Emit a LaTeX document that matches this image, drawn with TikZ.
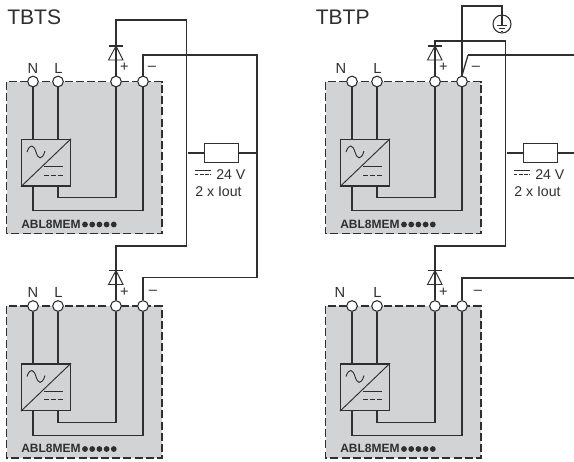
\documentclass[tikz,border=0pt]{standalone}
\usepackage{fontspec}
\setmainfont{Liberation Sans}
\definecolor{ink}{HTML}{2F2F2F}
\definecolor{panel}{HTML}{D1D3D4}
\tikzset{
  x=0.75pt,y=-0.75pt,
  wire/.style={draw=ink,line width=0.95pt,line join=miter},
  thin wire/.style={draw=ink,line width=0.7pt},
  terminal/.style={circle,draw=ink,fill=white,line width=0.8pt,minimum size=8pt,inner sep=0pt},
  panelbox/.style={draw=ink,fill=panel,line width=0.8pt,dash pattern=on 6pt off 2.4pt},
  conv/.style={draw=ink,line width=0.95pt,minimum width=36.6pt,minimum height=35pt,inner sep=0pt},
  load/.style={draw=ink,line width=0.95pt,minimum width=25.5pt,minimum height=14pt,inner sep=0pt},
  pin/.style={font=\fontsize{11}{12}\selectfont,text=ink,inner sep=0pt},
  polarity/.style={font=\fontsize{11}{12}\selectfont,text=ink,inner sep=0pt},
  title/.style={font=\fontsize{15.8}{18}\selectfont,text=ink,inner sep=0pt,anchor=west},
  model/.style={font=\fontsize{9}{11}\selectfont\bfseries,text=ink,inner sep=0pt,anchor=west},
  rating/.style={font=\fontsize{10.6}{12}\selectfont,text=ink,inner sep=0pt,anchor=west},
}
% #1 x offset, #2 y offset, #3 name prefix, #4 N label x, #5 minus label x (both relative to the unit)
\newcommand{\supplyunit}[5]{%
\begin{scope}[shift={(#1,#2)}]
  \path[panelbox] (6.5,81.5) rectangle (162,233.5);
  \node[conv] (#3conv) at (46,162.7) {};
  \node[terminal] (#3N) at (33,81.5) {};
  \node[terminal] (#3L) at (58,81.5) {};
  \node[terminal] (#3P) at (116,81.5) {};
  \node[terminal] (#3M) at (143,81.5) {};
  \node[pin] (#3Nt) at (#4,68) {N};
  \node[pin] (#3Lt) at (58.5,68) {L};
  \node[polarity] (#3Pt) at (124.5,67.5) {+};
  \node[polarity] (#3Mt) at (#5,68) {–};
  \draw[wire] (#3N.south) -- (#3N.south |- #3conv.north);
  \draw[wire] (#3L.south) -- (#3L.south |- #3conv.north);
  \draw[wire] (#3N.south |- #3conv.south) -- ++(0,24) -| (#3M.south);
  \draw[wire] (#3L.south |- #3conv.south) -- ++(0,11) -| (#3P.south);
  \draw[thin wire] (#3conv.south west) -- (#3conv.north east);
  \draw[thin wire] (27,152) .. controls (30,143) and (34,145) .. (36,152) .. controls (38,159) and (42,161) .. (45,151);
  \draw[thin wire] (44,166.7) -- (63,166.7);
  \draw[thin wire,dash pattern=on 3.6pt off 1.6pt] (44,175) -- (63,175);
  \node[model] (#3name) at (21,224) {ABL8MEM};
  \foreach \i in {0,1,2,3,4} \fill[ink] (85+7.2*\i,224.5) circle (2.9);
  % diode
  \coordinate (#3D) at (116,46);
  \draw[thin wire] (108.5,60) -- (123,60) -- (#3D) -- cycle;
  \draw[wire] (108.5,46) -- (123,46);
\end{scope}}
% #1 x offset, #2 name prefix
\newcommand{\ratinglabel}[2]{%
  \begin{scope}[shift={(#1,0)}]
  \draw[draw=ink,line width=0.5pt] (195,170.5) -- (211,170.5);
  \draw[draw=ink,line width=0.5pt,dash pattern=on 2.6pt off 1.2pt] (195,174.5) -- (211,174.5);
  \node[rating] (#2v) at (216,175) {24 V};
  \node[rating] (#2i) at (195,192) {2 x Iout};
  \end{scope}}
\begin{document}
\begin{tikzpicture}
\useasboundingbox (0,0) rectangle (574,461);
\node[title] (t1) at (7,17) {TBTS};
\node[title] (t2) at (315.5,17) {TBTP};

\supplyunit{0}{0}{a}{33}{152}
\supplyunit{0}{224.5}{b}{33}{153}
\supplyunit{319}{0}{c}{22}{157}
\supplyunit{319}{224.5}{d}{21}{159}

% left: TBTS
\coordinate (a1) at (186.5,20);
\coordinate (a2) at (186.5,246);
\coordinate (a3) at (257,55);
\coordinate (a4) at (257,277.5);
\draw[wire] (aP.north) |- (a1) -- (a2) -| (bP.north);
\draw[wire] (aM.north) |- (a3) -- (a4) -| (bM.north);
\node[load] (r1) at (221.2,153) {};
\coordinate (r1l) at (188,153);
\coordinate (r1r) at (257,153);
\draw[wire] (r1l) -- (r1.west);
\draw[wire] (r1.east) -- (r1r);
\ratinglabel{0}{p}

% right: TBTP
\node[circle,draw=ink,line width=0.8pt,minimum size=13.5pt,inner sep=0pt] (gnd) at (502,24) {};
\coordinate (g1) at (462,6);
\coordinate (g2) at (502,24.5);
\draw[wire] (cM.north) -- (g1) -| (g2);
\draw[thin wire] (497,25) -- (507,25);
\draw[thin wire] (499,28.3) -- (505,28.3);
\draw[thin wire] (501,31) -- (503,31);
\coordinate (c1) at (505.5,41);
\coordinate (c2) at (505.5,246);
\draw[wire] (cP.north) |- (c1) -- (c2) -| (dP.north);
\coordinate (c3) at (468,55);
\coordinate (c4) at (574,55);
\coordinate (c5) at (574,278);
\draw[wire] (cM.north) -- (c3);
\draw[wire] (c3) -- (c4);
\draw[wire] (dM.north) |- (c5);
\node[load] (r2) at (540.5,153) {};
\coordinate (r2l) at (507,153);
\coordinate (r2r) at (574,153);
\draw[wire] (r2l) -- (r2.west);
\draw[wire] (r2.east) -- (r2r);
\ratinglabel{319}{q}
\end{tikzpicture}
\end{document}
